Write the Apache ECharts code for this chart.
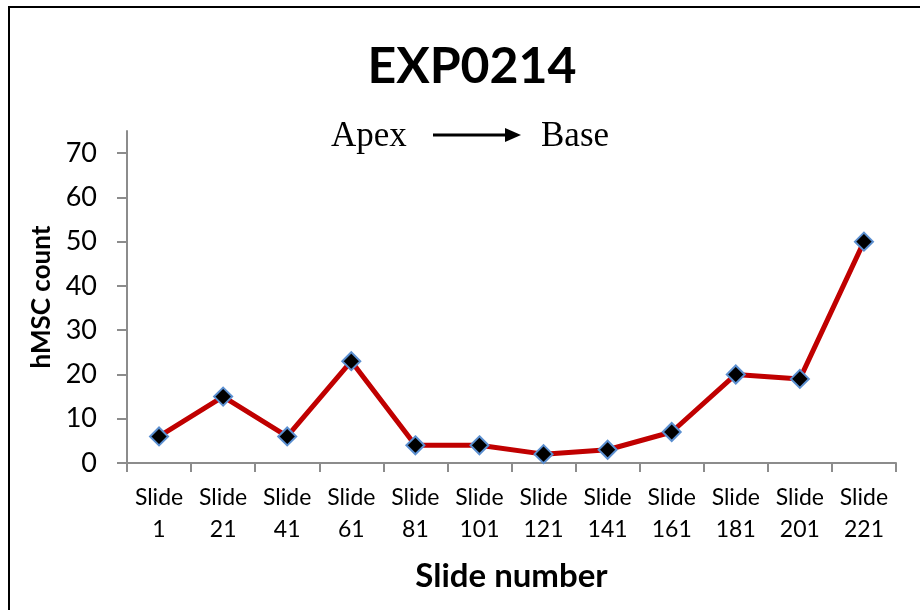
<!DOCTYPE html>
<html>
<head>
<meta charset="utf-8">
<script src="https://cdn.jsdelivr.net/npm/echarts@6/dist/echarts.min.js"></script>
<style>
  html, body { margin: 0; padding: 0; background: #fff; }
  #chart { width: 920px; height: 610px; }
</style>
</head>
<body>
<div id="chart"></div>
<script>
// Slides sampled from apex to base, with the hMSC count on each
const slides = ['Slide\n1', 'Slide\n21', 'Slide\n41', 'Slide\n61', 'Slide\n81', 'Slide\n101',
                'Slide\n121', 'Slide\n141', 'Slide\n161', 'Slide\n181', 'Slide\n201', 'Slide\n221'];
const hmscCount = [6, 15, 6, 23, 4, 4, 2, 3, 7, 20, 19, 50];
const yTicks = [0, 10, 20, 30, 40, 50, 60, 70];

const sans = 'Lato, "Open Sans", sans-serif';
const serif = '"Liberation Serif", "DejaVu Serif", serif';
const axisGrey = '#8c8c8c';
const chart = echarts.init(document.getElementById('chart'), null, { renderer: 'canvas' });

chart.setOption({
  animation: false,
  backgroundColor: '#fff',
  title: {
    text: 'EXP0214',
    left: 467, top: 37, textAlign: 'center',
    textStyle: { fontFamily: sans, fontWeight: 'bold', fontSize: 50, color: '#000' }
  },
  grid: { left: 127, right: 24, top: 131, bottom: 147 },
  xAxis: {
    type: 'category',
    data: slides,
    boundaryGap: true,
    name: 'Slide number',
    nameLocation: 'middle',
    nameGap: 97,
    nameTextStyle: { fontFamily: sans, fontWeight: 'bold', fontSize: 33, color: '#000' },
    axisLine: { lineStyle: { color: axisGrey, width: 2 } },
    axisTick: { show: true, alignWithLabel: false, length: 9, lineStyle: { color: axisGrey, width: 2 } },
    axisLabel: { fontFamily: sans, fontSize: 23, color: '#000', lineHeight: 32, margin: 19, interval: 0 },
    splitLine: { show: false }
  },
  yAxis: {
    type: 'value',
    min: 0, max: 75,
    name: 'hMSC count',
    nameLocation: 'middle',
    nameGap: 60,
    nameTextStyle: { fontFamily: sans, fontWeight: 'bold', fontSize: 26, color: '#000' },
    axisLine: { show: true, lineStyle: { color: axisGrey, width: 2 } },
    axisTick: { show: true, length: 10, customValues: yTicks, lineStyle: { color: axisGrey, width: 2 } },
    axisLabel: { customValues: yTicks, fontFamily: sans, fontSize: 27, color: '#000', margin: 30 },
    splitLine: { show: false }
  },
  series: [{
    type: 'line',
    data: hmscCount,
    lineStyle: { color: '#c00000', width: 5 },
    symbol: 'diamond',
    symbolSize: 18,
    itemStyle: { color: '#000', borderColor: '#5b8fd0', borderWidth: 2 },
    z: 3
  }],
  graphic: [
    // outer frame
    { type: 'rect', shape: { x: 9, y: 7, width: 930, height: 620 },
      style: { fill: 'none', stroke: '#000', lineWidth: 2 }, silent: true },
    { type: 'text', left: 331, top: 119,
      style: { text: 'Apex', font: '35px ' + serif, fill: '#000' } },
    { type: 'text', left: 541, top: 119,
      style: { text: 'Base', font: '35px ' + serif, fill: '#000' } },
    // arrow from apex to base
    { type: 'line', shape: { x1: 433, y1: 135, x2: 508, y2: 135 },
      style: { stroke: '#000', lineWidth: 3 } },
    { type: 'polygon', shape: { points: [[505, 128], [521, 135], [505, 142]] },
      style: { fill: '#000' } }
  ]
});
</script>
</body>
</html>
